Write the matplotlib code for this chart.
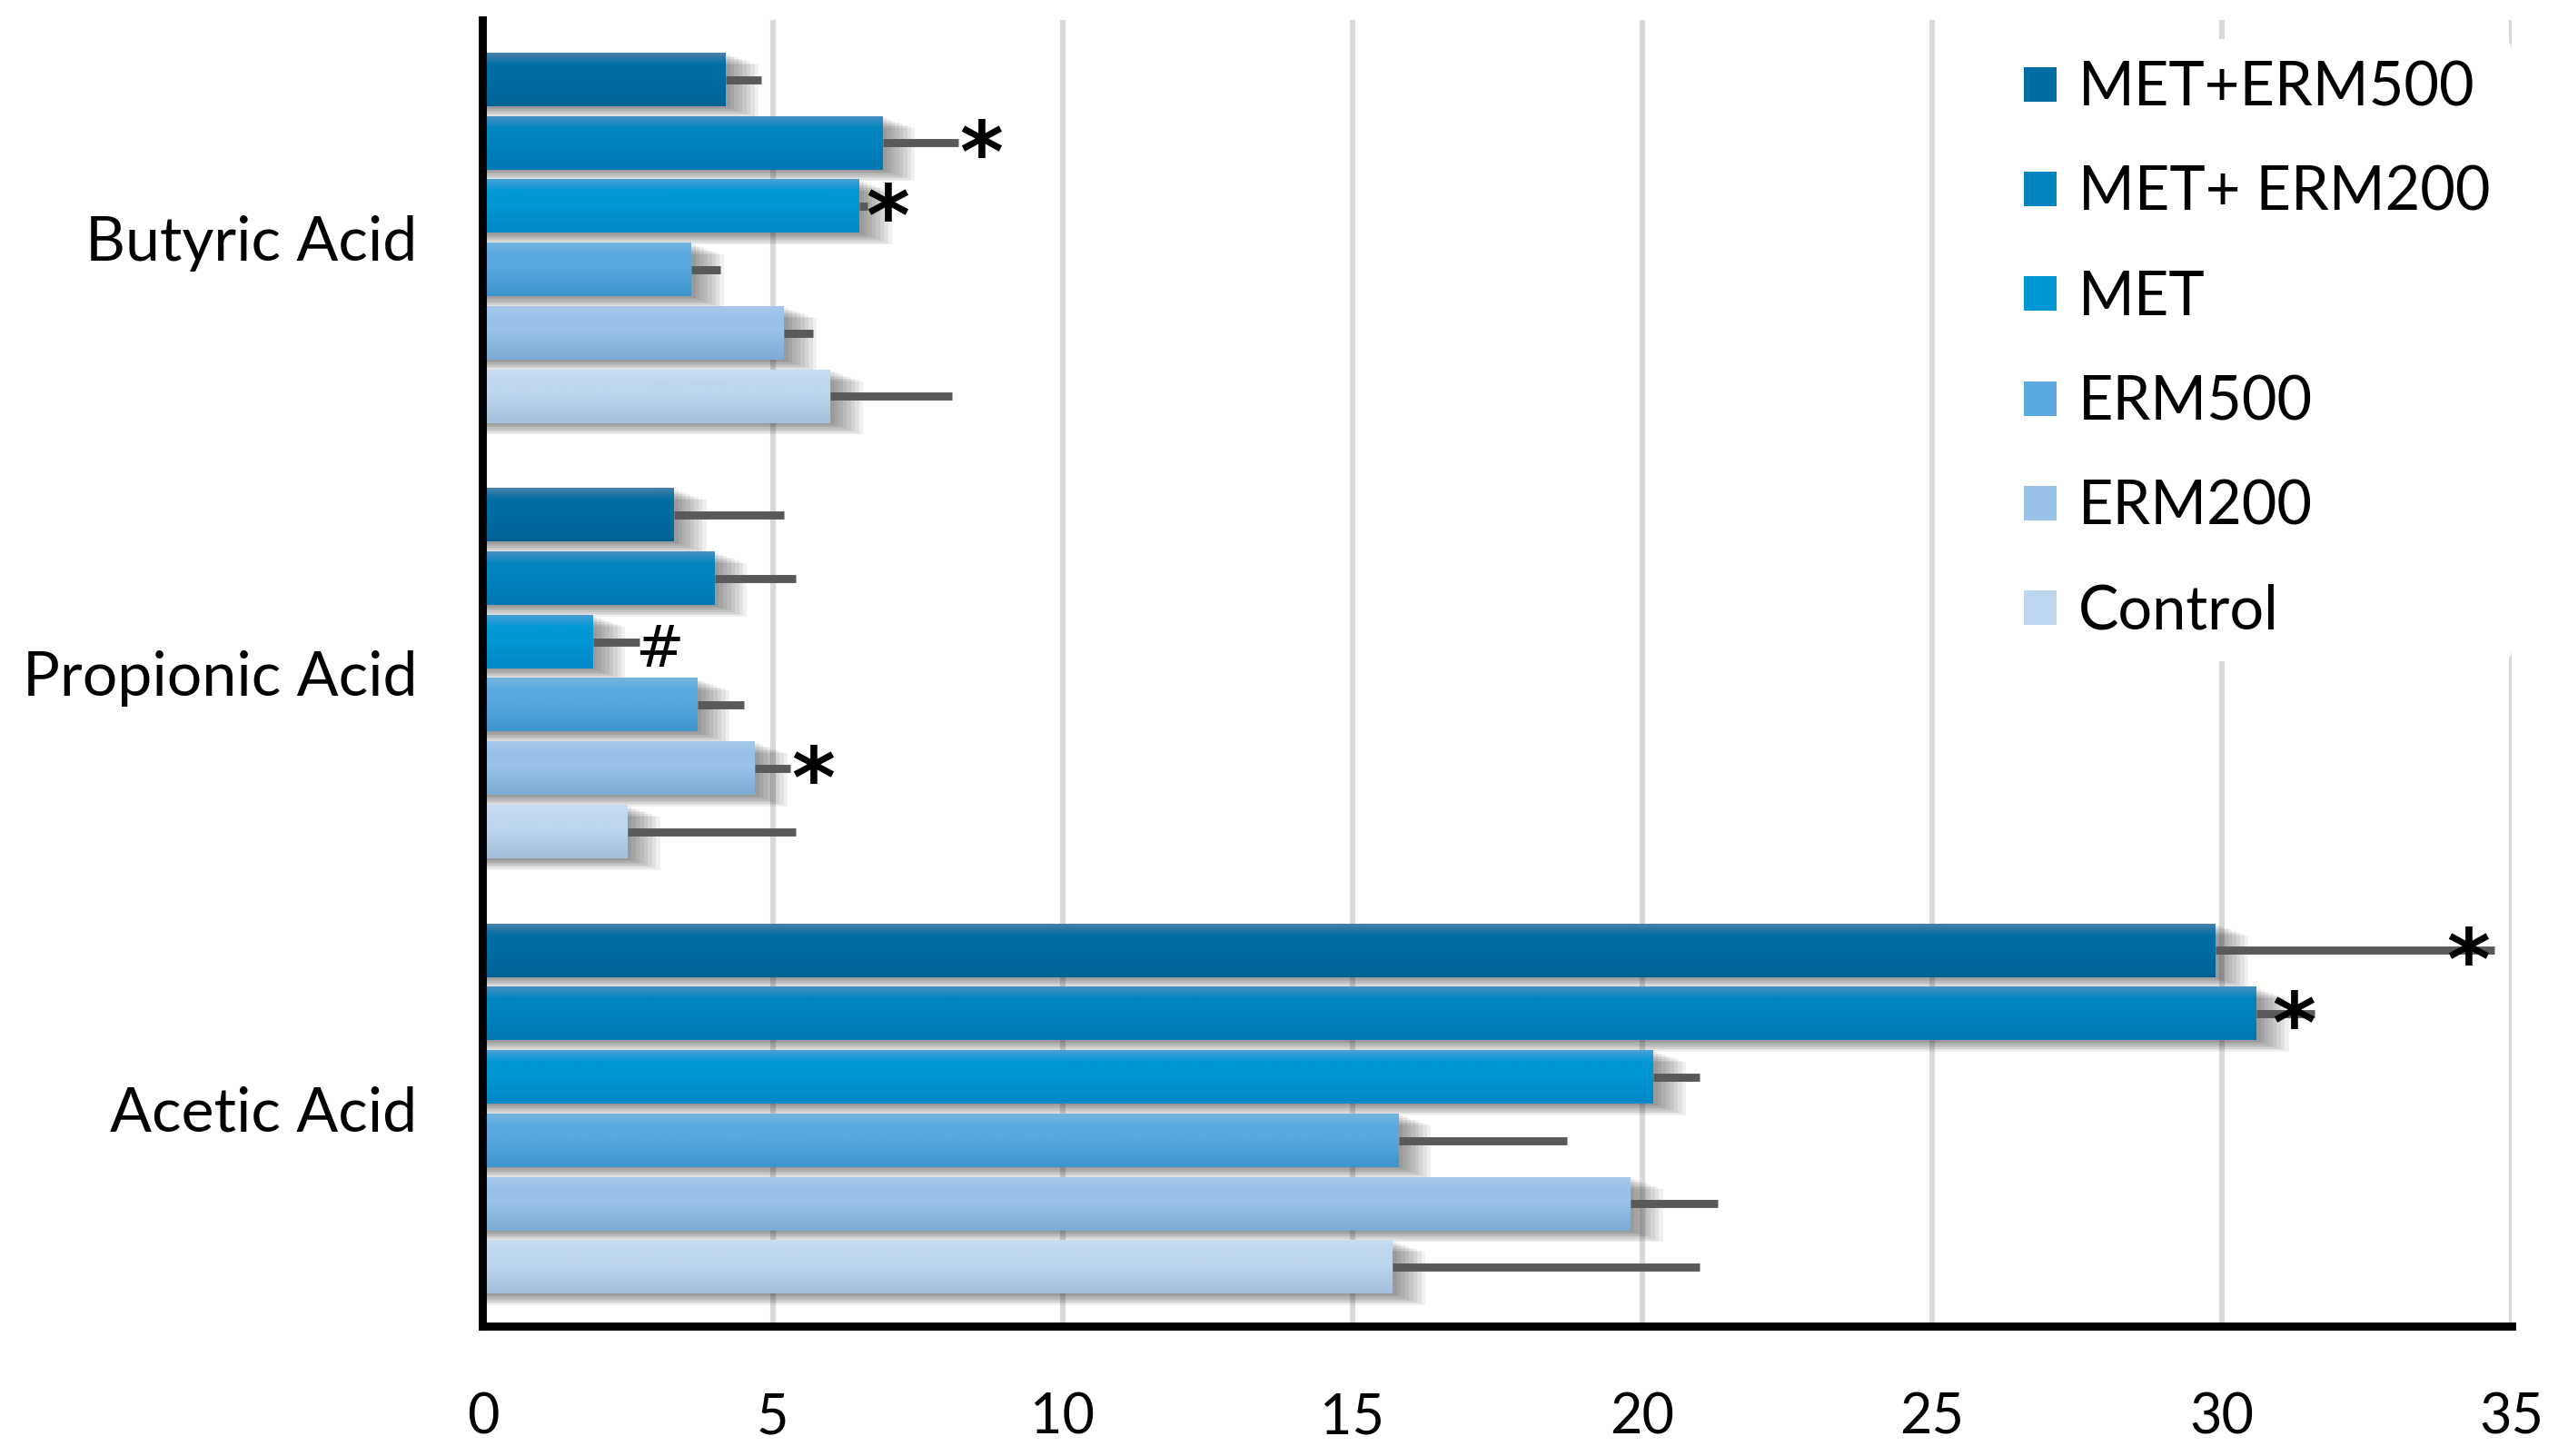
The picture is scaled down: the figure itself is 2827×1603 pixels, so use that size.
import numpy as np
import matplotlib
matplotlib.use("Agg")
import matplotlib.pyplot as plt
from matplotlib.colors import LinearSegmentedColormap
from matplotlib.patches import Rectangle, Patch

# data
categories = ["Acetic Acid", "Propionic Acid", "Butyric Acid"]
series_names = ["Control", "ERM200", "ERM500", "MET", "MET+ ERM200", "MET+ERM500"]

control = [15.7, 2.5, 6.0]
erm200 = [19.8, 4.7, 5.2]
erm500 = [15.8, 3.7, 3.6]
met = [20.2, 1.9, 6.5]
met_erm200 = [30.6, 4.0, 6.9]
met_erm500 = [29.9, 3.3, 4.2]

control_err = [5.3, 2.9, 2.1]
erm200_err = [1.5, 0.6, 0.5]
erm500_err = [2.9, 0.8, 0.5]
met_err = [0.8, 0.8, 0.13]
met_erm200_err = [1.0, 1.4, 1.3]
met_erm500_err = [4.8, 1.9, 0.6]

# significance marks: (category index, series index, symbol)
marks = [(2, 4, "*"), (2, 3, "*"), (1, 3, "#"), (1, 1, "*"), (0, 5, "*"), (0, 4, "*")]
mark_dx = [0.4, 0.35, 0.35, 0.4, -0.45, -0.35]

values = [control, erm200, erm500, met, met_erm200, met_erm500]
errors = [control_err, erm200_err, erm500_err, met_err, met_erm200_err, met_erm500_err]

# (bottom, middle, top) colours of the glossy gradient
grad_colors = [
    ("#a4bfdb", "#bed6ed", "#c9dcf0"),
    ("#7eabd3", "#98c2e8", "#a7c9eb"),
    ("#3e94cc", "#5aa9e0", "#75b4e2"),
    ("#0088c8", "#0097d6", "#47a0d6"),
    ("#0078b2", "#0085be", "#4690c3"),
    ("#006396", "#006ea3", "#4580aa"),
]

fig = plt.figure(figsize=(14.135, 8.015), dpi=200)
ax = fig.add_axes([0.188, 0.089, 0.79, 0.897])

bar_h = 0.122
pitch = 0.1455
y_cat = np.arange(len(categories))
grad = np.linspace(0, 1, 64).reshape(-1, 1)

for i, name in enumerate(series_names):
    bottom, mid, top = grad_colors[i]
    cm = LinearSegmentedColormap.from_list(
        name, [(0, bottom), (0.55, mid), (0.78, mid), (1, top)])
    ys = y_cat + (i - 2.5) * pitch
    for y, w in zip(ys, values[i]):
        # soft drop shadow
        for k in range(1, 9):
            ax.add_patch(Rectangle((0, y - bar_h / 2 - k * 0.0033), w + k * 0.07, bar_h,
                                   facecolor="black", edgecolor="none", alpha=0.06, zorder=1.5))
        ax.imshow(grad, extent=[0, w, y - bar_h / 2, y + bar_h / 2], aspect="auto",
                  cmap=cm, origin="lower", zorder=2, interpolation="bilinear")
    ax.errorbar(values[i], ys, xerr=[np.zeros(len(ys)), errors[i]], fmt="none",
                ecolor="#595959", elinewidth=3.2, capsize=0, zorder=3)

for (c, s, sym), dx in zip(marks, mark_dx):
    x = values[s][c] + errors[s][c] + dx
    y = y_cat[c] + (s - 2.5) * pitch
    if sym == "*":
        ax.text(x, y - 0.035, sym, fontsize=33, fontweight="bold", ha="center", va="center",
                family="DejaVu Sans", zorder=4)
    else:
        ax.text(x, y - 0.02, sym, fontsize=23, ha="center", va="center",
                family="DejaVu Sans", zorder=4)

ax.set_xlim(0, 35)
ax.set_ylim(-0.5, 2.5)
ax.set_xticks(np.arange(0, 36, 5))
ax.set_yticks(y_cat)
ax.set_yticklabels(categories, family="Lato", fontsize=24.5)
for lab in ax.get_xticklabels():
    lab.set_family(["Liberation Sans Narrow", "Lato"])
    lab.set_fontsize(22)
ax.tick_params(axis="both", length=0)
ax.tick_params(axis="x", pad=26)
ax.tick_params(axis="y", pad=26)

ax.grid(axis="x", color="#d9d9d9", linewidth=2.2, zorder=0.5)
ax.set_axisbelow(True)
for side in ["top", "right"]:
    ax.spines[side].set_visible(False)
for side in ["left", "bottom"]:
    ax.spines[side].set_linewidth(3.2)
    ax.spines[side].set_color("black")

handles = [Patch(facecolor=grad_colors[i][1], edgecolor="none") for i in range(len(series_names))]
leg = fig.legend(handles[::-1], series_names[::-1], loc="upper left",
                 bbox_to_anchor=(0.768, 0.994), frameon=True, facecolor="white",
                 edgecolor="none", framealpha=1, prop={"family": "Lato", "size": 24},
                 handlelength=0.55, handleheight=0.5, handletextpad=0.35,
                 labelspacing=0.8, borderpad=0.35)

fig.savefig("out.png", dpi=200)
